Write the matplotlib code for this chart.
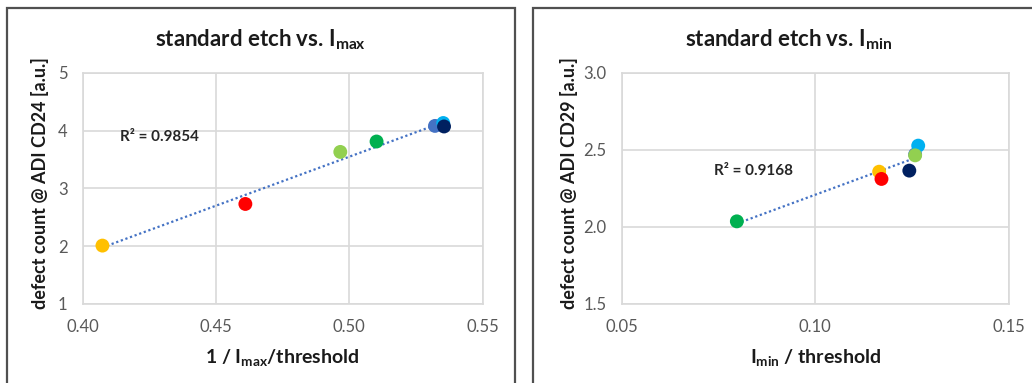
import numpy as np
import matplotlib
matplotlib.use("Agg")
import matplotlib.pyplot as plt
from matplotlib.patches import Rectangle

plt.rcParams["font.family"] = ["Lato", "DejaVu Sans"]
plt.rcParams["mathtext.fontset"] = "custom"

# Point colours, one per sample
colors = ["#FFC000", "#FF0000", "#92D050", "#00B050", "#4472C4", "#00B0F0", "#002060"]

# standard etch vs. 1/Imax
imax_x = [0.4074, 0.4610, 0.4966, 0.5102, 0.5321, 0.5352, 0.5355]
imax_y = [2.01, 2.73, 3.63, 3.81, 4.08, 4.13, 4.07]

# standard etch vs. Imin
imin_x = [0.1165, 0.1171, 0.1258, 0.0797, 0.1258, 0.1266, 0.1243]
imin_y = [2.358, 2.311, 2.464, 2.036, 2.470, 2.527, 2.365]

left_xticks = [0.40, 0.45, 0.50, 0.55]
left_yticks = [1, 2, 3, 4, 5]
right_xticks = [0.05, 0.10, 0.15]
right_yticks = [1.5, 2.0, 2.5, 3.0]

W, H = 1032, 383
fig = plt.figure(figsize=(W / 100, H / 100), dpi=100)
fig.patch.set_facecolor("white")

# chart frames
frames = [(7, 515), (533, 1044)]
for x0, x1 in frames:
    fig.patches.append(Rectangle((x0 / W, -0.2), (x1 - x0) / W, 1.2 - 8 / H,
                                 transform=fig.transFigure, fill=False,
                                 edgecolor="#505050", linewidth=1.6))

grid_c = "#D9D9D9"
tick_c = "#595959"


def panel(rect, frame, xs, ys, xticks, yticks, xfmt, yfmt, title, xlabel, ylabel,
          ylab_x, r2, r2pos, order):
    ax = fig.add_axes(rect)
    ax.set_xlim(xticks[0], xticks[-1])
    ax.set_ylim(yticks[0], yticks[-1])
    ax.set_xticks(xticks)
    ax.set_yticks(yticks)
    ax.set_xticklabels([xfmt.format(v) for v in xticks])
    ax.set_yticklabels([yfmt.format(v) for v in yticks])
    ax.grid(True, color=grid_c, linewidth=1.2)
    ax.set_axisbelow(True)
    for s in ax.spines.values():
        s.set_color(grid_c)
        s.set_linewidth(1.2)
    ax.tick_params(length=0, labelsize=12, labelcolor=tick_c, pad=11)
    # linear trend line
    k, b = np.polyfit(xs, ys, 1)
    xl = np.array([min(xs), max(xs)])
    ax.plot(xl, k * xl + b, linestyle=(0, (1, 1.2)), color="#4472C4", linewidth=1.6, zorder=3)
    for i in order:
        ax.scatter([xs[i]], [ys[i]], s=100, color=colors[i], edgecolors="none", zorder=4)
    ax.text(r2pos[0], r2pos[1], r2, ha="center", va="center", fontsize=11,
            fontweight="bold", color="#262626")
    # chart title centred on the chart frame
    fig.text((frame[0] + frame[1]) / 2 / W, 1 - 40 / H, title, ha="center", va="center",
             fontsize=16, fontweight="bold", color="#1a1a1a")
    ax.set_xlabel(xlabel, fontsize=14, fontweight="bold", color="#1a1a1a", labelpad=9)
    ax.set_ylabel(ylabel, fontsize=13, fontweight="bold", color="#1a1a1a")
    ax.yaxis.label.set_va("center")
    x0p = rect[0] * W
    wp = rect[2] * W
    ax.yaxis.set_label_coords((ylab_x - x0p) / wp, (304 - 183) / (304 - 72.7))
    return ax


panel([82.7 / W, 1 - 304 / H, 400 / W, (304 - 72.7) / H], frames[0],
      imax_x, imax_y, left_xticks, left_yticks, "{:.2f}", "{:.0f}",
      r"standard etch vs. I$_{\mathregular{max}}$",
      r"1 / I$_{\mathregular{max}}$/threshold",
      "defect count @ ADI CD24 [a.u.]", 40.5,
      "R² = 0.9854", (0.4286, 3.89), [0, 1, 2, 3, 4, 5, 6])

panel([622 / W, 1 - 304 / H, (1008.7 - 622) / W, (304 - 72.7) / H], frames[1],
      imin_x, imin_y, right_xticks, right_yticks, "{:.2f}", "{:.1f}",
      r"standard etch vs. I$_{\mathregular{min}}$",
      r"I$_{\mathregular{min}}$ / threshold",
      "defect count @ ADI CD29 [a.u.]", 569,
      "R² = 0.9168", (0.0841, 2.364), [3, 0, 1, 6, 4, 5, 2])

fig.savefig("out.png", dpi=100)
